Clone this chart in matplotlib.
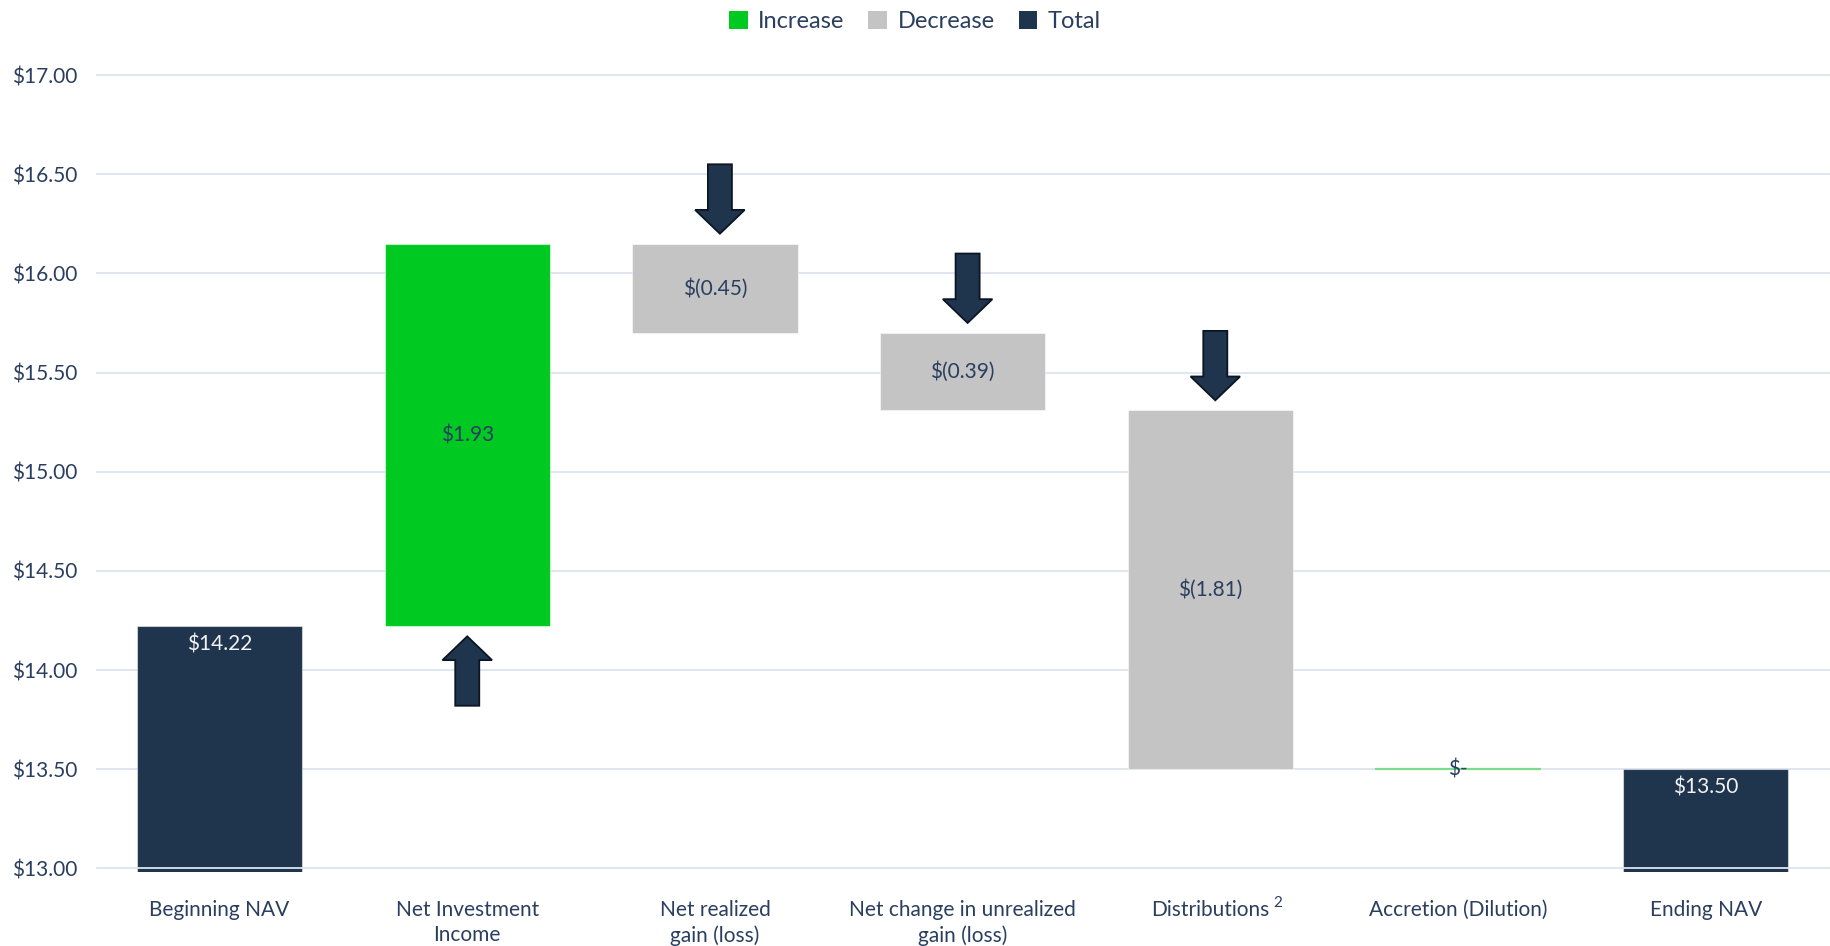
import matplotlib
matplotlib.use("Agg")
import matplotlib.pyplot as plt
from matplotlib.patches import Patch, FancyArrow

# ---- data ----
categories = ["Beginning NAV", "Net Investment\nIncome", "Net realized\ngain (loss)",
              "Net change in unrealized\ngain (loss)", "Distributions", "Accretion (Dilution)",
              "Ending NAV"]
kinds = ["total", "increase", "decrease", "decrease", "decrease", "increase", "total"]
values = [14.22, 1.93, -0.45, -0.39, -1.81, 0.00, 13.50]
labels = ["$14.22", "$1.93", "$(0.45)", "$(0.39)", "$(1.81)", "$-", "$13.50"]
yticks = [13.0, 13.5, 14.0, 14.5, 15.0, 15.5, 16.0, 16.5, 17.0]
ytick_labels = ["$13.00", "$13.50", "$14.00", "$14.50", "$15.00", "$15.50", "$16.00", "$16.50", "$17.00"]
legend_labels = ["Increase", "Decrease", "Total"]

# ---- style ----
FONT = "Lato"
TEXT = "#2a3f5f"
GREEN = "#00c922"
GREY = "#c4c4c4"
NAVY = "#1f344d"
GRID = "#dce4ef"
colors = {"increase": GREEN, "decrease": GREY, "total": NAVY}

plt.rcParams["font.family"] = [FONT, "DejaVu Sans"]

fig = plt.figure(figsize=(18.30, 9.46), dpi=100)
ax = fig.add_axes([95.7 / 1830, 0.0785, 1733.9 / 1830, 0.8841])
ax.set_xlim(-0.5, 6.5)
ax.set_ylim(12.983, 17.2)

# compute waterfall
bottoms, heights = [], []
running = 0.0
for k, v in zip(kinds, values):
    if k == "total":
        bottoms.append(0.0)
        heights.append(v)
        running = v
    else:
        lo = min(running, running + v)
        bottoms.append(lo)
        heights.append(abs(v))
        running += v

xs = list(range(len(categories)))
bw = 0.667
for x, b, h, k, lab in zip(xs, bottoms, heights, kinds, labels):
    if h == 0:
        ax.plot([x - bw / 2, x + bw / 2], [b, b], color="#7ddc8c", lw=1.6, zorder=3,
                solid_capstyle="butt")
        ax.text(x, b, lab, ha="center", va="center", fontsize=15, color=TEXT, zorder=5)
        continue
    ax.bar(x, h, bottom=b, width=bw, color=colors[k], edgecolor=(1, 1, 1, 0.5),
           linewidth=0.8, zorder=2)
    if k == "total":
        ax.text(x, b + h - 0.04, lab, ha="center", va="top", fontsize=15,
                color="#f2f2f2", zorder=5)
    else:
        ax.text(x, b + h / 2, lab, ha="center", va="center", fontsize=15,
                color=TEXT, zorder=5)

# arrows
alen, gap = 0.35, 0.05
for x, b, h, k in zip(xs, bottoms, heights, kinds):
    if k == "increase" and h > 0:
        tip = b - gap
        arr = FancyArrow(x, tip - alen, 0, alen, width=0.097, head_width=0.2,
                         head_length=0.12, length_includes_head=True,
                         facecolor=NAVY, edgecolor="#0b1622", linewidth=1.3, zorder=4)
        ax.add_patch(arr)
    elif k == "decrease":
        tip = b + h + gap
        arr = FancyArrow(x + 0.02, tip + alen, 0, -alen, width=0.097, head_width=0.2,
                         head_length=0.12, length_includes_head=True,
                         facecolor=NAVY, edgecolor="#0b1622", linewidth=1.3, zorder=4)
        ax.add_patch(arr)

# grid and axes
for y in yticks:
    ax.axhline(y, color=GRID, lw=1.3, zorder=1 if y > yticks[0] else 3)
for s in ax.spines.values():
    s.set_visible(False)
ax.set_yticks(yticks)
ax.set_yticklabels(ytick_labels)
ax.set_xticks(xs)
ax.set_xticklabels(categories, linespacing=1.35)
ax.tick_params(axis="both", length=0, labelsize=15, colors=TEXT)
ax.tick_params(axis="y", pad=13)
ax.tick_params(axis="x", pad=20)

# legend
handles = [Patch(facecolor=c) for c in (GREEN, GREY, NAVY)]
fig.legend(handles, legend_labels, loc="upper center", bbox_to_anchor=(0.5, 1.011), ncol=3,
           frameon=False, fontsize=17, handlelength=0.8, handleheight=0.8,
           handletextpad=0.45, columnspacing=1.0, labelcolor=TEXT)

# superscript on Distributions
fig.canvas.draw()
r = fig.canvas.get_renderer()
tl = ax.get_xticklabels()[4]
bb = tl.get_window_extent(r)
fig.text((bb.x1 + 4) / fig.bbox.width, (bb.y1 + 4) / fig.bbox.height, "2",
         fontsize=11, color=TEXT, ha="left", va="top")

fig.savefig("out.png", dpi=100)
